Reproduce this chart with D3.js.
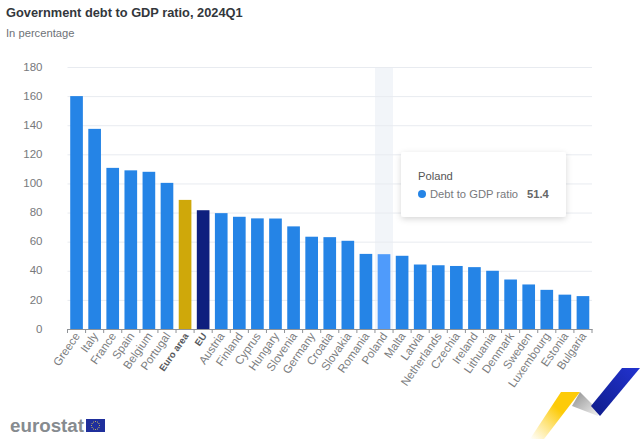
<!DOCTYPE html>
<html>
<head>
<meta charset="utf-8">
<script src="https://cdn.jsdelivr.net/npm/d3@7"></script>
<style>
  html, body { margin: 0; padding: 0; background: #fff; overflow: hidden; }
  text { font-family: "Liberation Sans", Arial, sans-serif; }
</style>
</head>
<body>
<script>
const width = 640;
const height = 439;

const countries = ["Greece", "Italy", "France", "Spain", "Belgium", "Portugal", "Euro area", "EU", "Austria",
  "Finland", "Cyprus", "Hungary", "Slovenia", "Germany", "Croatia", "Slovakia", "Romania", "Poland", "Malta",
  "Latvia", "Netherlands", "Czechia", "Ireland", "Lithuania", "Denmark", "Sweden", "Luxembourg", "Estonia", "Bulgaria"];
const debt = [160, 137.5, 110.7, 109, 108, 100.4, 88.7, 81.6, 79.6,
  77.1, 76, 75.9, 70.5, 63.4, 63.1, 60.6, 51.6, 51.4, 50.3,
  44.3, 43.8, 43.3, 42.5, 40, 34, 30.6, 26.9, 23.6, 22.6];
const yTicks = [0, 20, 40, 60, 80, 100, 120, 140, 160, 180];
const aggregates = ["Euro area", "EU"];
const highlighted = "Poland";

const barColor = d => d === "Euro area" ? "#cfa80a" : d === "EU" ? "#0e1f7e" : d === highlighted ? "#4f9bfb" : "#2584e6";

const svg = d3.select("body").append("svg")
    .attr("width", width)
    .attr("height", height)
    .style("display", "block");

const x = d3.scaleBand().domain(countries).range([67.5, 592]).paddingInner(0.3).paddingOuter(0.15);
const y = d3.scaleLinear().domain([0, 180]).range([329, 67]);

const defs = svg.append("defs");
const shadow = defs.append("filter").attr("id", "shadow")
    .attr("x", "-20%").attr("y", "-20%").attr("width", "140%").attr("height", "150%");
shadow.append("feDropShadow").attr("dx", 0).attr("dy", 2).attr("stdDeviation", 3)
    .attr("flood-color", "#000").attr("flood-opacity", 0.16);

const yellow = defs.append("linearGradient").attr("id", "yellow")
    .attr("x1", "100%").attr("y1", "0%").attr("x2", "0%").attr("y2", "100%");
yellow.append("stop").attr("offset", "40%").attr("stop-color", "#fdcb08");
yellow.append("stop").attr("offset", "100%").attr("stop-color", "#fff").attr("stop-opacity", 0.9);
const grey = defs.append("linearGradient").attr("id", "grey")
    .attr("x1", "0%").attr("y1", "0%").attr("x2", "100%").attr("y2", "100%");
grey.append("stop").attr("offset", "0%").attr("stop-color", "#8f8f8f");
grey.append("stop").attr("offset", "100%").attr("stop-color", "#f2f2f2");
const blue = defs.append("linearGradient").attr("id", "blue")
    .attr("x1", "100%").attr("y1", "0%").attr("x2", "0%").attr("y2", "100%");
blue.append("stop").attr("offset", "0%").attr("stop-color", "#2233d0");
blue.append("stop").attr("offset", "100%").attr("stop-color", "#0f1c8a");

// title
svg.append("text").attr("x", 6).attr("y", 17)
    .attr("font-size", 12.8).attr("font-weight", 700).attr("fill", "#33373c")
    .text("Government debt to GDP ratio, 2024Q1");
svg.append("text").attr("x", 6).attr("y", 37)
    .attr("font-size", 11.2).attr("fill", "#6e7277")
    .text("In percentage");

// hover band
const step = x.step();
svg.append("rect")
    .attr("x", x(highlighted) + x.bandwidth() / 2 - step / 2).attr("y", 67)
    .attr("width", step).attr("height", 262)
    .attr("fill", "#f2f5f9");

// grid
const yAxis = d3.axisLeft(y).tickValues(yTicks).tickSize(-(592 - 67.5)).tickPadding(25);
const gy = svg.append("g").attr("transform", "translate(67.5,0)").call(yAxis);
gy.select(".domain").remove();
gy.selectAll(".tick line").attr("stroke", "#e8ebf0").attr("stroke-width", 1);
gy.selectAll(".tick").filter(d => d === 0).select("line").remove();
gy.selectAll(".tick text").attr("font-size", 11.5).attr("fill", "#77797c")
    .attr("font-family", "'Liberation Sans', Arial, sans-serif")
    .attr("y", -0.5);

// bars
svg.selectAll("rect.bar").data(countries).join("rect")
    .attr("class", "bar")
    .attr("x", d => x(d))
    .attr("y", (d, i) => y(debt[i]))
    .attr("width", x.bandwidth())
    .attr("height", (d, i) => y(0) - y(debt[i]))
    .attr("fill", barColor);

// x axis
const xAxis = d3.axisBottom(x).tickSize(0).tickPadding(0);
const gx = svg.append("g").attr("transform", "translate(0,329)").call(xAxis);
gx.select(".domain").attr("stroke", "#8f9296").attr("stroke-width", 1);
gx.selectAll(".tick line").remove();
gx.selectAll(".tick text")
    .attr("font-family", "'Liberation Sans', Arial, sans-serif")
    .attr("font-size", d => aggregates.includes(d) ? 9.5 : 11.5)
    .attr("font-weight", d => aggregates.includes(d) ? 700 : 400)
    .attr("fill", d => aggregates.includes(d) ? "#55585c" : "#7b7d80")
    .attr("text-anchor", "end")
    .attr("y", 0)
    .attr("dy", 0)
    .attr("transform", "translate(4,7) rotate(-55)");

// ticks on the category boundaries
svg.selectAll("line.boundary").data(d3.range(countries.length + 1)).join("line")
    .attr("class", "boundary")
    .attr("x1", i => 67.5 + i * step).attr("x2", i => 67.5 + i * step)
    .attr("y1", 329).attr("y2", 333)
    .attr("stroke", "#8f9296");

// tooltip
const tip = svg.append("g").attr("transform", "translate(401,152)");
tip.append("rect").attr("width", 165).attr("height", 65).attr("rx", 3)
    .attr("fill", "#fff").attr("filter", "url(#shadow)");
tip.append("text").attr("x", 17).attr("y", 28).attr("font-size", 11.2).attr("fill", "#555").text(highlighted);
tip.append("circle").attr("cx", 21).attr("cy", 42).attr("r", 4).attr("fill", "#2584e6");
tip.append("text").attr("x", 29).attr("y", 46).attr("font-size", 11.2).attr("fill", "#77797c").text("Debt to GDP ratio");
tip.append("text").attr("x", 126).attr("y", 46).attr("font-size", 11.2).attr("font-weight", 700).attr("fill", "#666")
    .text(debt[countries.indexOf(highlighted)]);

// eurostat logo
svg.append("text").attr("x", 10).attr("y", 432)
    .attr("font-size", 18).attr("font-weight", 700).attr("fill", "#868b8f")
    .attr("font-family", "'Open Sans', sans-serif")
    .attr("textLength", 74).attr("lengthAdjust", "spacingAndGlyphs")
    .text("eurostat");
svg.append("rect").attr("x", 86).attr("y", 419).attr("width", 19).attr("height", 13).attr("fill", "#1f2f9c");
svg.selectAll("circle.star").data(d3.range(12)).join("circle")
    .attr("class", "star")
    .attr("cx", i => 95.5 + 4 * Math.cos(i * Math.PI / 6))
    .attr("cy", i => 425.5 + 4 * Math.sin(i * Math.PI / 6))
    .attr("r", 0.5).attr("fill", "#f5d94a");

// corner ribbon
const ribbon = d3.line();
svg.append("path").attr("d", ribbon([[530, 439], [561, 392], [580, 392], [544, 439]])).attr("fill", "url(#yellow)");
svg.append("path").attr("d", ribbon([[580, 392], [599, 411], [598, 416], [572, 406]])).attr("fill", "url(#grey)");
svg.append("path").attr("d", ribbon([[591, 406], [622, 368], [640, 368], [600, 416]])).attr("fill", "url(#blue)");
</script>
</body>
</html>
